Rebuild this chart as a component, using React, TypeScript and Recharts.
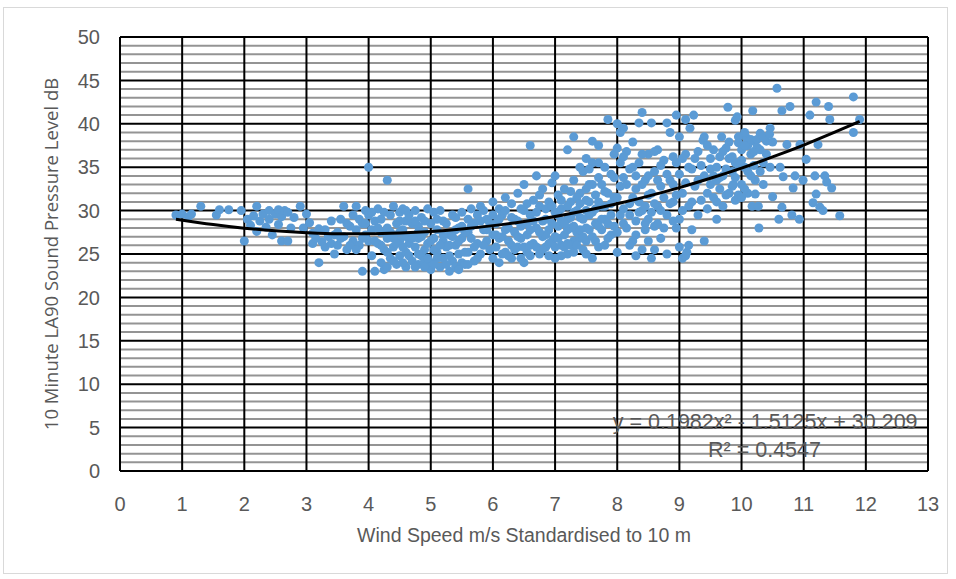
import React from "react";
import {
  ScatterChart,
  Scatter,
  XAxis,
  YAxis,
  ZAxis,
  CartesianGrid,
  ReferenceDot,
} from "recharts";

// Wind speed (m/s standardised to 10 m) vs 10 minute LA90 (dB)
const lowWind: [number, number][] = [
  [0.9, 29.5], [1.0, 29.6], [1.1, 29.3], [1.15, 29.6], [1.3, 30.5], [1.55, 29.5], [1.6, 30.1],
  [1.75, 30.1], [1.95, 30.0], [2.0, 26.5], [2.05, 29.0], [2.1, 28.3], [2.15, 29.4], [2.2, 30.5],
  [2.2, 27.6], [2.25, 28.8], [2.3, 29.6], [2.35, 28.1], [2.4, 30.0], [2.4, 29.0], [2.45, 27.2],
  [2.5, 29.6], [2.55, 30.1], [2.55, 28.4], [2.6, 26.5], [2.6, 29.3], [2.65, 30.0], [2.7, 26.5],
  [2.7, 29.8], [2.75, 28.0], [2.8, 29.2], [2.9, 30.5], [2.95, 28.0], [3.0, 29.6], [3.05, 28.6],
  [3.1, 26.2], [3.1, 27.4], [3.15, 26.8], [3.2, 24.0], [3.2, 27.9], [3.25, 26.4], [3.3, 25.8],
  [3.35, 27.0], [3.4, 26.2], [3.45, 25.0], [3.3, 27.8], [3.4, 28.8], [3.45, 27.2],
];

const moderateWind: [number, number][] = [
  [3.5, 27.5], [3.5, 26.0], [3.55, 29.0], [3.6, 30.5], [3.6, 27.0], [3.65, 25.5], [3.7, 28.2],
  [3.75, 26.5], [3.8, 30.5], [3.8, 27.8], [3.85, 29.0], [3.85, 26.0], [3.9, 23.0], [3.9, 28.5],
  [3.95, 27.2], [3.95, 30.0], [4.0, 35.0], [4.0, 26.5], [4.0, 29.5], [4.05, 27.8], [4.05, 24.8],
  [4.1, 23.0], [4.1, 28.8], [4.15, 26.2], [4.15, 30.2], [4.2, 24.0], [4.2, 27.5], [4.2, 29.0],
  [4.25, 23.2], [4.25, 25.5], [4.3, 33.5], [4.3, 28.0], [4.3, 26.8], [4.35, 29.5], [4.35, 24.5],
  [4.4, 27.2], [4.4, 30.5], [4.4, 25.8], [4.45, 28.5], [4.45, 23.8], [4.5, 26.5], [4.5, 29.8],
  [4.5, 24.8], [4.55, 27.8], [4.55, 30.2], [4.6, 25.2], [4.6, 28.8], [4.6, 23.5], [4.65, 26.2],
  [4.65, 29.5], [4.7, 27.0], [4.7, 24.2], [4.75, 30.0], [4.75, 25.8], [4.8, 28.2], [4.8, 23.8],
  [4.8, 26.8], [4.85, 29.2], [4.85, 24.8], [4.9, 27.5], [4.9, 25.5], [4.95, 30.2], [4.95, 26.2],
  [5.0, 24.0], [5.0, 28.5], [5.0, 23.2], [5.05, 26.8], [5.05, 29.8], [5.1, 25.2], [5.1, 27.8],
  [5.15, 23.5], [5.15, 30.0], [5.2, 24.5], [5.2, 26.5], [5.2, 28.8], [5.25, 25.8], [5.3, 23.0],
  [5.3, 27.2], [5.35, 29.5], [5.35, 24.2], [5.4, 26.0], [5.4, 23.5], [5.45, 28.0], [5.45, 25.0],
  [5.5, 29.8], [5.5, 24.0], [5.5, 26.8], [5.55, 23.8], [5.6, 32.5], [5.6, 27.5], [5.6, 25.2],
  [5.65, 30.2], [5.7, 24.2], [5.7, 28.5], [5.75, 26.2], [5.8, 30.5], [5.8, 25.0], [5.85, 27.8],
  [5.9, 29.0], [5.9, 26.5], [5.95, 25.5], [6.0, 31.0], [6.0, 27.2], [6.0, 24.5],
  [6.0, 29.5], [5.8, 28.8], [5.6, 29.0], [5.4, 27.8], [5.2, 27.2], [5.0, 26.5], [4.8, 27.5],
  [4.6, 27.0], [4.4, 26.8], [4.2, 26.0], [5.5, 28.2], [5.3, 26.0], [5.1, 24.5], [4.9, 24.2],
  [5.7, 25.8], [5.9, 27.8], [5.35, 27.0], [5.65, 26.8], [4.7, 28.5], [4.5, 27.5], [4.35, 27.5],
  [3.55, 26.8], [3.65, 28.5], [3.7, 26.0], [3.75, 29.5], [3.8, 25.5], [3.9, 26.8], [3.95, 28.5],
  [4.05, 29.8], [4.1, 26.5], [4.15, 28.0], [4.25, 29.8], [4.3, 25.2], [4.45, 26.2], [4.5, 28.8],
  [4.55, 25.8], [4.6, 30.0], [4.65, 24.8], [4.7, 26.8], [4.75, 28.8], [4.8, 25.0], [4.85, 27.0],
  [4.9, 28.8], [4.95, 24.5], [5.05, 25.5], [5.1, 29.0], [5.15, 26.0], [5.25, 28.5], [5.3, 24.8],
  [5.4, 29.2], [5.45, 26.5], [5.55, 27.5], [5.55, 25.2], [5.6, 23.8], [5.65, 28.2], [5.75, 29.5],
  [5.75, 24.5], [5.85, 26.0], [5.85, 30.0], [5.95, 28.5], [5.45, 23.2], [5.25, 23.8], [5.05, 23.8],
  [4.9, 23.5], [4.75, 23.5], [4.55, 24.0], [4.4, 24.2], [4.3, 23.5],
];

const freshWind: [number, number][] = [
  [6.05, 28.5], [6.05, 25.8], [6.1, 30.2], [6.1, 24.0], [6.15, 27.0], [6.15, 29.5], [6.2, 25.2],
  [6.2, 31.5], [6.25, 28.0], [6.25, 26.5], [6.3, 30.8], [6.3, 24.5], [6.35, 27.5], [6.35, 29.0],
  [6.4, 25.8], [6.4, 32.0], [6.45, 28.2], [6.45, 26.8], [6.5, 30.0], [6.5, 24.0], [6.5, 33.0],
  [6.55, 27.2], [6.55, 25.2], [6.6, 29.5], [6.6, 37.5], [6.65, 31.2], [6.65, 26.2], [6.7, 28.0],
  [6.7, 34.0], [6.75, 25.0], [6.75, 30.5], [6.8, 27.0], [6.8, 32.5], [6.85, 29.0], [6.85, 25.8],
  [6.9, 31.0], [6.9, 27.8], [6.95, 33.2], [6.95, 26.5], [7.0, 29.8], [7.0, 24.5], [7.0, 34.0],
  [7.05, 28.2], [7.05, 31.8], [7.1, 26.0], [7.1, 30.2], [7.15, 32.5], [7.15, 27.2], [7.2, 37.0],
  [7.2, 29.0], [7.2, 25.0], [7.25, 31.0], [7.25, 28.0], [7.3, 38.5], [7.3, 33.5], [7.3, 26.5],
  [7.35, 30.0], [7.35, 27.5], [7.4, 32.0], [7.4, 29.2], [7.45, 25.5], [7.45, 34.5], [7.5, 28.0],
  [7.5, 31.2], [7.5, 26.5], [7.55, 33.0], [7.55, 29.5], [7.6, 35.5], [7.6, 27.0], [7.6, 24.5],
  [7.65, 31.8], [7.65, 28.5], [7.7, 37.5], [7.7, 33.8], [7.7, 25.8], [7.75, 30.5], [7.75, 27.8],
  [7.8, 35.0], [7.8, 32.2], [7.8, 29.0], [7.85, 40.5], [7.85, 26.8], [7.9, 34.2], [7.9, 30.8],
  [7.95, 36.5], [7.95, 28.2],
  [6.2, 27.8], [6.4, 28.8], [6.6, 27.8], [6.8, 28.8], [7.0, 27.0], [7.2, 27.8], [7.4, 26.8],
  [6.3, 26.0], [6.7, 29.8], [7.1, 28.8], [6.9, 24.8], [6.5, 25.8], [7.3, 29.8], [7.5, 30.0],
  [6.1, 26.8], [6.45, 30.2], [6.85, 27.2], [7.25, 26.0], [6.15, 25.0],
  [6.05, 27.2], [6.1, 29.0], [6.2, 30.0], [6.25, 24.8], [6.3, 29.2], [6.35, 25.5], [6.4, 27.0],
  [6.45, 24.5], [6.55, 28.5], [6.55, 30.8], [6.6, 26.0], [6.6, 24.8], [6.65, 28.8], [6.7, 25.8],
  [6.75, 27.5], [6.75, 31.8], [6.8, 25.5], [6.85, 30.2], [6.9, 26.2], [6.95, 28.5], [6.95, 30.5],
  [7.0, 25.8], [7.05, 26.8], [7.05, 29.5], [7.1, 24.8], [7.1, 31.2], [7.15, 25.8], [7.15, 28.5],
  [7.2, 30.5], [7.2, 26.2], [7.25, 29.2], [7.25, 32.2], [7.3, 25.2], [7.3, 28.2], [7.35, 31.5],
  [7.35, 26.0], [7.4, 27.8], [7.4, 30.8], [7.45, 29.0], [7.45, 27.0], [7.5, 32.5], [7.5, 25.0],
  [7.55, 27.8], [7.55, 31.0], [7.6, 29.8], [7.6, 33.0], [7.65, 26.5], [7.65, 30.2], [7.7, 28.2],
  [7.7, 31.0], [7.75, 29.0], [7.75, 33.0], [7.8, 26.0], [7.8, 30.5], [7.85, 28.5], [7.85, 32.0],
  [7.9, 29.5], [7.9, 27.2], [7.95, 31.5], [7.95, 33.8], [7.6, 38.0], [7.7, 35.5], [7.5, 36.0],
  [7.4, 35.0], [7.55, 34.8],
];

const strongWind: [number, number][] = [
  [8.0, 40.0], [8.05, 39.0], [8.1, 39.5], [8.0, 37.2], [8.05, 35.5], [8.1, 33.8], [8.0, 31.5],
  [8.05, 29.5], [8.0, 27.5], [8.0, 25.2], [8.1, 28.5], [8.15, 36.8], [8.2, 34.8], [8.2, 30.8],
  [8.25, 37.9], [8.25, 26.5], [8.3, 32.5], [8.3, 28.8], [8.35, 40.1], [8.35, 35.5], [8.4, 41.3],
  [8.4, 30.0], [8.4, 25.5], [8.45, 33.5], [8.45, 27.8], [8.5, 36.5], [8.5, 31.8], [8.5, 29.0],
  [8.55, 40.1], [8.55, 24.5], [8.6, 34.5], [8.6, 28.2], [8.65, 37.0], [8.65, 30.5], [8.7, 32.8],
  [8.7, 26.8], [8.75, 35.8], [8.8, 40.1], [8.8, 29.5], [8.8, 25.0], [8.85, 39.0], [8.85, 33.5],
  [8.9, 36.2], [8.9, 31.0], [8.95, 41.0], [8.95, 28.0], [9.0, 38.5], [9.0, 34.2], [9.0, 29.0],
  [9.0, 25.8], [9.05, 24.5], [9.05, 32.0], [9.1, 36.5], [9.1, 40.5], [9.12, 25.2], [9.15, 30.5],
  [9.17, 39.5], [9.2, 34.8], [9.2, 27.8], [9.23, 41.0], [9.25, 32.8], [9.3, 36.8], [9.3, 29.5],
  [9.35, 31.2], [9.38, 38.1], [9.4, 34.0], [9.4, 26.5], [9.45, 30.2], [9.5, 36.0], [9.5, 33.0],
  [9.4, 38.5], [9.45, 37.5],
  [8.05, 32.8], [8.1, 30.2], [8.1, 36.2], [8.15, 28.0], [8.15, 33.0], [8.2, 29.5], [8.25, 31.5],
  [8.25, 35.0], [8.3, 27.2], [8.3, 34.0], [8.35, 29.8], [8.35, 31.0], [8.4, 33.0], [8.4, 36.5],
  [8.45, 28.5], [8.45, 30.5], [8.5, 34.0], [8.5, 26.5], [8.55, 32.0], [8.55, 29.8], [8.6, 36.8],
  [8.6, 30.8], [8.65, 28.5], [8.65, 33.5], [8.7, 35.2], [8.7, 30.0], [8.75, 31.5], [8.75, 28.0],
  [8.8, 34.2], [8.85, 30.8], [8.9, 33.0], [8.9, 28.8], [8.95, 35.5], [8.95, 31.8], [9.05, 36.0],
  [9.05, 30.0], [9.1, 33.2], [9.15, 35.0], [9.2, 31.0], [9.25, 36.0], [9.3, 33.5], [9.35, 35.2],
  [9.45, 32.0], [9.5, 34.8], [8.2, 26.0], [8.6, 25.5], [8.3, 24.8], [9.1, 24.8], [9.15, 26.0],
];

const galeWind: [number, number][] = [
  [9.55, 31.5], [9.6, 35.0], [9.6, 29.0], [9.65, 32.5], [9.68, 38.5], [9.7, 34.0], [9.75, 31.8],
  [9.78, 41.9], [9.8, 37.9], [9.8, 36.0], [9.85, 32.8], [9.87, 33.0], [9.9, 40.4], [9.9, 35.5],
  [9.93, 40.8], [9.95, 31.8], [10.0, 33.0], [10.0, 37.0], [10.05, 35.0], [10.08, 38.4], [10.1, 32.0],
  [10.15, 36.5], [10.17, 30.5], [10.18, 41.5], [10.2, 38.0], [10.22, 33.5], [10.22, 31.9],
  [10.25, 37.3], [10.27, 30.5], [10.28, 28.0], [10.3, 38.9], [10.35, 35.5], [10.4, 38.0],
  [10.46, 39.5], [10.46, 35.0], [10.5, 37.9], [10.5, 31.6], [10.57, 44.1], [10.6, 29.0],
  [10.62, 35.0], [10.65, 41.5], [10.65, 30.4], [10.67, 33.9], [10.73, 37.6], [10.78, 42.0],
  [10.81, 29.5], [10.83, 32.6], [10.86, 34.0], [10.93, 29.0], [10.94, 37.6], [10.99, 33.5],
  [11.04, 35.9], [11.1, 41.0], [11.15, 30.9], [11.18, 34.0], [11.2, 42.5], [11.2, 31.9],
  [11.23, 37.6], [11.26, 30.4], [11.31, 30.0], [11.34, 34.0], [11.37, 33.3], [11.4, 42.0],
  [11.42, 40.5], [11.45, 32.6], [11.58, 29.4], [11.8, 43.1], [11.8, 39.0], [11.9, 40.5],
  [9.55, 37.0], [9.6, 33.5], [9.65, 36.2], [9.7, 30.5], [9.75, 37.2], [9.85, 34.5], [9.9, 31.2],
  [9.95, 37.8], [10.0, 35.8], [10.05, 32.5], [10.1, 37.5], [10.15, 34.0], [10.2, 36.8],
  [10.3, 37.0], [10.35, 33.0],
  [9.55, 34.0], [9.6, 31.0], [9.65, 33.8], [9.7, 36.8], [9.75, 34.8], [9.8, 32.0], [9.85, 36.2],
  [9.9, 33.8], [9.95, 35.2], [10.0, 31.5], [10.05, 37.5], [10.1, 34.5], [10.15, 38.2], [10.2, 35.2],
  [10.25, 38.2], [10.3, 34.5], [10.35, 38.5], [10.4, 36.5], [10.45, 38.8], [10.05, 39.0], [9.95, 38.5],
];

// Polynomial trendline (y = 0.1982x² - 1.5125x + 30.209) as drawn
const trendWind = [0.9, 1.5, 2, 2.5, 3, 3.5, 4, 4.5, 5, 5.5, 6, 6.5, 7, 7.5, 8, 8.5, 9, 9.5, 10, 10.5, 11, 11.5, 11.9];
const trendLevel = [29.01, 28.39, 27.98, 27.67, 27.46, 27.34, 27.33, 27.42, 27.6, 27.89, 28.27, 28.75, 29.33, 30.01, 30.79, 31.67, 32.65, 33.73, 34.9, 36.18, 37.55, 39.03, 40.28];

const xTicks = [0, 1, 2, 3, 4, 5, 6, 7, 8, 9, 10, 11, 12, 13];
const yMajor = [0, 5, 10, 15, 20, 25, 30, 35, 40, 45, 50];
const yMinor = [1, 2, 3, 4, 6, 7, 8, 9, 11, 12, 13, 14, 16, 17, 18, 19, 21, 22, 23, 24, 26, 27, 28, 29, 31, 32, 33, 34, 36, 37, 38, 39, 41, 42, 43, 44, 46, 47, 48, 49];

const equationText = "y = 0.1982x² - 1.5125x + 30.209";
const r2Text = "R² = 0.4547";
const equationAnchor = { x: 10.38, y: 5.7 };
const r2Anchor = { x: 10.37, y: 2.5 };

const toPoints = (arr: [number, number][]) => arr.map(([x, y]) => ({ x, y }));
const points = [
  ...toPoints(lowWind),
  ...toPoints(moderateWind),
  ...toPoints(freshWind),
  ...toPoints(strongWind),
  ...toPoints(galeWind),
];
const trend = trendWind.map((x, i) => ({ x, y: trendLevel[i] }));

const textGrey = "#595959";
const tickFont = "'Liberation Sans Narrow', 'Liberation Sans', Arial, sans-serif";

export default function App() {
  return (
    <div
      style={{
        position: "absolute",
        left: 3,
        top: 7,
        width: 945,
        height: 567,
        border: "1px solid #d9d9d9",
        boxSizing: "border-box",
        background: "#fff",
      }}
    >
      <ScatterChart width={943} height={565} margin={{ top: 29, right: 19, left: 0, bottom: 62 }}>
        <CartesianGrid horizontalValues={yMinor} vertical={false} stroke="#949494" strokeWidth={2} />
        <CartesianGrid horizontalValues={yMajor} verticalValues={xTicks} stroke="#000" strokeWidth={2} />
        <XAxis
          type="number"
          dataKey="x"
          domain={[0, 13]}
          ticks={xTicks}
          interval={0}
          axisLine={false}
          tickLine={false}
          tickMargin={20}
          height={40}
          tick={{ fill: textGrey, fontSize: 20, fontFamily: tickFont }}
          label={{
            value: "Wind Speed m/s Standardised to 10 m",
            position: "bottom",
            offset: 17,
            fill: textGrey,
            fontSize: 19.5,
            fontFamily: tickFont,
          }}
        />
        <YAxis
          type="number"
          dataKey="y"
          domain={[0, 50]}
          ticks={yMajor}
          interval={0}
          axisLine={false}
          tickLine={false}
          tickMargin={14}
          width={116}
          tick={{ fill: textGrey, fontSize: 20, fontFamily: tickFont }}
          label={{
            value: "10 Minute LA90 Sound Pressure Level dB",
            angle: -90,
            position: "insideLeft",
            offset: 47,
            fill: textGrey,
            fontSize: 18.5,
            fontFamily: "'Open Sans', sans-serif",
            style: { textAnchor: "middle" },
          }}
        />
        <ZAxis range={[78, 78]} />
        <Scatter data={points} fill="#5B9BD5" isAnimationActive={false} />
        <Scatter
          data={trend}
          line={{ stroke: "#000", strokeWidth: 3 }}
          lineType="joint"
          lineJointType="monotoneX"
          shape={() => <g />}
          isAnimationActive={false}
        />
        <ReferenceDot
          x={equationAnchor.x}
          y={equationAnchor.y}
          r={0}
          fill="none"
          stroke="none"
          label={{ value: equationText, position: "center", fill: textGrey, fontSize: 21.5, fontFamily: tickFont }}
        />
        <ReferenceDot
          x={r2Anchor.x}
          y={r2Anchor.y}
          r={0}
          fill="none"
          stroke="none"
          label={{ value: r2Text, position: "center", fill: textGrey, fontSize: 21.5, fontFamily: tickFont }}
        />
      </ScatterChart>
    </div>
  );
}
